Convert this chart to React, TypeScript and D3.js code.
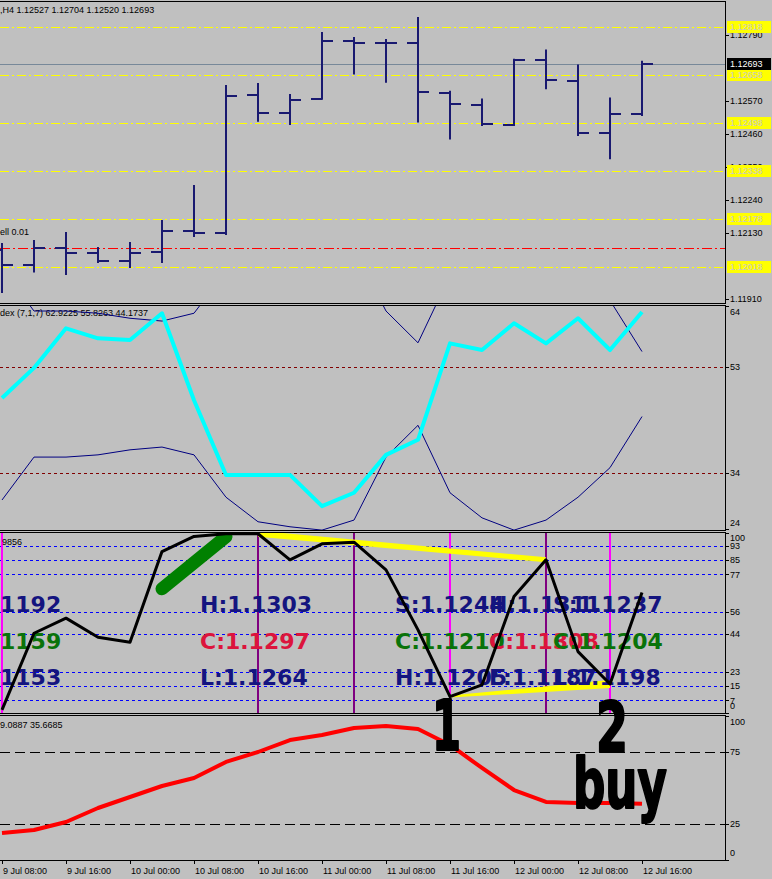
import React from 'react';
import * as d3 from 'd3';

// H4 bars, 9 Jul 08:00 .. 12 Jul 16:00
const barTimes = [
  '2019-07-09 08:00', '2019-07-09 12:00', '2019-07-09 16:00', '2019-07-09 20:00',
  '2019-07-10 00:00', '2019-07-10 04:00', '2019-07-10 08:00', '2019-07-10 12:00',
  '2019-07-10 16:00', '2019-07-10 20:00', '2019-07-11 00:00', '2019-07-11 04:00',
  '2019-07-11 08:00', '2019-07-11 12:00', '2019-07-11 16:00', '2019-07-11 20:00',
  '2019-07-12 00:00', '2019-07-12 04:00', '2019-07-12 08:00', '2019-07-12 12:00',
  '2019-07-12 16:00',
];

const opens = [1.12073, 1.12023, 1.12081, 1.12063, 1.12038, 1.12068, 1.12138, 1.12131, 1.12590, 1.12530, 1.12577,
  1.12771, 1.12764, 1.12764, 1.12598, 1.12557, 1.12490, 1.12708, 1.12638, 1.12463, 1.12527];
const highs = [1.12097, 1.12107, 1.12133, 1.12083, 1.12100, 1.12173, 1.12290, 1.12623, 1.12630, 1.12593, 1.12800,
  1.12783, 1.12777, 1.12850, 1.12604, 1.12578, 1.12711, 1.12742, 1.12692, 1.12582, 1.12704];
const lows = [1.11930, 1.11998, 1.11990, 1.12030, 1.12013, 1.12030, 1.12117, 1.12123, 1.12501, 1.12490, 1.12574,
  1.12658, 1.12631, 1.12498, 1.12442, 1.12487, 1.12487, 1.12609, 1.12453, 1.12376, 1.12520];
const closes = [1.12023, 1.12081, 1.12063, 1.12038, 1.12063, 1.12138, 1.12131, 1.12587, 1.12530, 1.12574, 1.12771,
  1.12764, 1.12764, 1.12601, 1.12560, 1.12493, 1.12707, 1.12640, 1.12463, 1.12527, 1.12693];

// scale labels that are not hidden behind the level boxes
const priceTicks = [1.12790, 1.12570, 1.12460, 1.12350, 1.12240, 1.12130, 1.11910];
const yellowLevels = [1.12818, 1.12658, 1.12498, 1.12338, 1.12178, 1.12018];
const orderLevel = 1.1208;
const lastPrice = 1.12693;

// indicator window 2
const mainLine = [47.5, 52.9, 60.0, 58.2, 57.9, 62.7, 47.1, 33.7, 33.7, 33.7, 28.1, 30.5, 37.3, 40.0, 57.3, 56.1,
  60.9, 57.3, 61.8, 56.1, 62.9225];
const upperBand = [70.8, 63.1, 63.1, 62.7, 61.8, 61.3, 62.7, 70.3, 74.7, 75.6, 76.2, 74.4, 63.1, 57.4, 69.5, 74.0,
  76.2, 74.4, 70.3, 65.0, 55.8263];
const lowerBand = [29.2, 36.9, 36.9, 37.3, 38.2, 38.7, 37.3, 29.7, 25.3, 24.4, 23.8, 25.6, 36.9, 42.6, 30.5, 26.0,
  23.8, 25.6, 29.7, 35.0, 44.1737];
const win2Levels = [53, 34];
const win2Ticks = [64, 53, 34, 24];

// indicator window 3
const stochLine = [1.7, 44.3, 52.7, 42.1, 39.3, 89.7, 98.1, 99.6, 99.6, 85.1, 94.0, 94.9, 79.5, 46.2, 9.1, 15.6,
  64.7, 85.1, 34.1, 16.1, 66.9856];
const win3Levels = [93, 85, 77, 56, 44, 23, 15, 7];
const magentaBars = [0, 14, 19];
const purpleBars = [8, 11, 17];
const divergences = [[8, 17, 6, 5], [14, 19, 2, 8]]; // from bar, to bar, start width, end width
const greenStroke = [[5, 69], [7, 98]];

// indicator window 4
const redLine = [18.75, 20.8, 26.4, 36.1, 43.75, 51.4, 56.9, 68.1, 75.0, 83.3, 86.8, 91.7, 93.1, 91.0, 79.9, 63.9,
  48.6, 40.3, 39.6, 39.6, 39.0887];
const win4Levels = [75, 25];

const labelRows = [
  [{ t: '1192', x: 0, c: '#14147f' }, { t: 'H:1.1303', x: 200, c: '#14147f' }, { t: 'S:1.1244', x: 395, c: '#14147f' },
    { t: 'H:1.1311', x: 489, c: '#14147f' }, { t: 'S:1.1237', x: 553, c: '#14147f' }],
  [{ t: '1159', x: 0, c: '#0a730a' }, { t: 'C:1.1297', x: 200, c: '#dc143c' }, { t: 'C:1.1210', x: 395, c: '#0a730a' },
    { t: 'C:1.1308', x: 489, c: '#dc143c' }, { t: 'C:1.1204', x: 553, c: '#0a730a' }],
  [{ t: '1153', x: 0, c: '#14147f' }, { t: 'L:1.1264', x: 200, c: '#14147f' }, { t: 'H:1.1205', x: 395, c: '#14147f' },
    { t: 'L:1.1187', x: 489, c: '#14147f' }, { t: 'L:1.1198', x: 553, c: '#14147f' }],
];
const rowBaselines = [612, 649, 685];

const FONT = 'Liberation Sans, Arial, sans-serif';
const RIGHT = 725;
const P1 = { top: 1, bottom: 303 };
const P2 = { top: 305, bottom: 530 };
const P3 = { top: 532, bottom: 713 };
const P4 = { top: 715, bottom: 860 };

const parse = d3.timeParse('%Y-%m-%d %H:%M');
const dates = barTimes.map(s => parse(s) as Date);
const fmtTick = d3.timeFormat('%-d %b %H:%M');

const x = d3.scaleTime().domain([dates[0], dates[dates.length - 1]]).range([2, 642]);
const yP = d3.scaleLinear().domain([1.11910, 1.12790]).range([299, 35]);
const y2 = d3.scaleLinear().domain([24, 64]).range([529, 306]);
const y3 = d3.scaleLinear().domain([0, 100]).range([713, 533]);
const y4 = d3.scaleLinear().domain([0, 100]).range([860, 716]);

const lineFor = (scale: d3.ScaleLinear<number, number>) =>
  d3.line<number>().x((_, i) => x(dates[i])).y(v => scale(v));

const Panel: React.FC<{ id: string; p: { top: number; bottom: number } }> = ({ id, p }) => (
  <clipPath id={id}>
    <rect x={0} y={p.top} width={RIGHT} height={p.bottom - p.top} />
  </clipPath>
);

const wedge = (a: number, b: number, w0: number, w1: number) => {
  const x0 = x(dates[a]), yA = y3(stochLine[a]);
  const x1 = x(dates[b]), yB = y3(stochLine[b]);
  return `M${x0},${yA - w0 / 2}L${x1},${yB - w1 / 2}L${x1},${yB + w1 / 2}L${x0},${yA + w0 / 2}Z`;
};

const AxisLabel: React.FC<{ y: number; ty?: number; text: string }> = ({ y, ty, text }) => (
  <g>
    <line x1={RIGHT} x2={RIGHT + 4} y1={Math.round(y) + 0.5} y2={Math.round(y) + 0.5} stroke="#000" />
    <text x={RIGHT + 5} y={ty ?? y} dy="0.35em" fontSize={9} fontFamily={FONT} fill="#000">{text}</text>
  </g>
);

export default function App() {
  const tickDates = dates.filter((_, i) => i % 2 === 0);
  const fmtP = d3.format('.5f');

  return (
    <div style={{ position: 'absolute', left: 0, top: 0 }}>
      <svg width={772} height={879} style={{ display: 'block' }}>
        <defs>
          <Panel id="c1" p={P1} />
          <Panel id="c2" p={P2} />
          <Panel id="c3" p={P3} />
          <Panel id="c4" p={P4} />
        </defs>
        <rect width={772} height={879} fill="#c0c0c0" />

        {/* main window */}
        <g clipPath="url(#c1)">
          {yellowLevels.map(v => (
            <line key={v} x1={0} x2={RIGHT} y1={Math.round(yP(v)) + 0.5} y2={Math.round(yP(v)) + 0.5}
              stroke="#ffff00" strokeDasharray="9,3,2,3" />
          ))}
          <line x1={0} x2={RIGHT} y1={Math.round(yP(orderLevel)) + 0.5} y2={Math.round(yP(orderLevel)) + 0.5}
            stroke="#ff0000" strokeDasharray="10,3,2,3" />
          <line x1={0} x2={RIGHT} y1={Math.round(yP(lastPrice)) + 0.5} y2={Math.round(yP(lastPrice)) + 0.5}
            stroke="#778899" />
          <text x={0} y={13} fontSize={9} fontFamily={FONT}>,H4  1.12527 1.12704 1.12520 1.12693</text>
          <text x={0} y={235} fontSize={9} fontFamily={FONT}>ell 0.01</text>
          {dates.map((d, i) => {
            const cx = Math.round(x(d));
            return (
              <g key={i} stroke="#191970" strokeWidth={2}>
                <line x1={cx} x2={cx} y1={yP(highs[i])} y2={yP(lows[i])} />
                <line x1={cx - 11} x2={cx} y1={Math.round(yP(opens[i]))} y2={Math.round(yP(opens[i]))} />
                <line x1={cx} x2={cx + 11} y1={Math.round(yP(closes[i]))} y2={Math.round(yP(closes[i]))} />
              </g>
            );
          })}
        </g>

        {/* window 2 */}
        <g clipPath="url(#c2)">
          {win2Levels.map(v => (
            <line key={v} x1={0} x2={RIGHT} y1={Math.round(y2(v)) + 0.5} y2={Math.round(y2(v)) + 0.5}
              stroke="#800000" strokeDasharray="3,3" />
          ))}
          <text x={0} y={316} fontSize={9} fontFamily={FONT}>dex (7,1,7) 62.9225 55.8263 44.1737</text>
          <path d={lineFor(y2)(upperBand) ?? ''} fill="none" stroke="#000080" strokeWidth={1} />
          <path d={lineFor(y2)(lowerBand) ?? ''} fill="none" stroke="#000080" strokeWidth={1} />
          <path d={lineFor(y2)(mainLine) ?? ''} fill="none" stroke="#00ffff" strokeWidth={4} strokeLinejoin="round" />
        </g>

        {/* window 3 */}
        <g clipPath="url(#c3)">
          {win3Levels.map(v => (
            <line key={v} x1={0} x2={RIGHT} y1={Math.round(y3(v)) + 0.5} y2={Math.round(y3(v)) + 0.5}
              stroke="#0000ff" strokeDasharray="3,3" />
          ))}
          {magentaBars.map(i => (
            <line key={'m' + i} x1={x(dates[i])} x2={x(dates[i])} y1={P3.top} y2={P3.bottom} stroke="#ff00ff" strokeWidth={2} />
          ))}
          {purpleBars.map(i => (
            <line key={'p' + i} x1={x(dates[i])} x2={x(dates[i])} y1={P3.top} y2={P3.bottom} stroke="#800080" strokeWidth={2} />
          ))}
          <text x={2} y={545} fontSize={9} fontFamily={FONT}>9856</text>
          {divergences.map(([a, b, w0, w1], k) => (
            <path key={k} d={wedge(a, b, w0, w1)} fill="#ffff00" />
          ))}
          <line x1={x(dates[greenStroke[0][0]])} y1={y3(greenStroke[0][1])}
            x2={x(dates[greenStroke[1][0]])} y2={y3(greenStroke[1][1])}
            stroke="#008000" strokeWidth={13} strokeLinecap="round" />
          {labelRows.map((row, r) => row.map((l, k) => (
            <text key={r + '-' + k} x={l.x} y={rowBaselines[r]} fontSize={22} fontWeight="bold"
              fontFamily="DejaVu Sans, sans-serif" fill={l.c}>{l.t}</text>
          )))}
          <path d={lineFor(y3)(stochLine) ?? ''} fill="none" stroke="#000" strokeWidth={3} strokeLinejoin="round" />
        </g>

        {/* window 4 */}
        <g clipPath="url(#c4)">
          {win4Levels.map(v => (
            <line key={v} x1={0} x2={RIGHT} y1={Math.round(y4(v)) + 0.5} y2={Math.round(y4(v)) + 0.5}
              stroke="#000" strokeDasharray="10,5" />
          ))}
          <text x={0} y={728} fontSize={9} fontFamily={FONT}>9.0887 35.6685</text>
          <path d={lineFor(y4)(redLine) ?? ''} fill="none" stroke="#ff0000" strokeWidth={4} strokeLinejoin="round" />
        </g>

        {/* borders */}
        {[P1, P2, P3, P4].map((p, k) => (
          <rect key={k} x={-1.5} y={p.top + 0.5} width={RIGHT + 2} height={p.bottom - p.top} fill="none" stroke="#000" />
        ))}

        {/* right axes */}
        {priceTicks.map(v => <AxisLabel key={v} y={yP(v)} text={fmtP(v)} />)}
        {yellowLevels.map(v => (
          <g key={'yl' + v}>
            <rect x={RIGHT + 2} y={Math.round(yP(v)) - 6} width={44} height={12} fill="#ffff00" />
            <text x={RIGHT + 5} y={yP(v)} dy="0.35em" fontSize={9} fontFamily={FONT} fill="#c8c8c8">{fmtP(v)}</text>
          </g>
        ))}
        <rect x={RIGHT + 2} y={Math.round(yP(lastPrice)) - 6} width={44} height={12} fill="#000" />
        <text x={RIGHT + 5} y={yP(lastPrice)} dy="0.35em" fontSize={9} fontFamily={FONT} fill="#fff">{fmtP(lastPrice)}</text>

        {win2Ticks.map(v => (
          <AxisLabel key={'w2' + v} y={y2(v)} ty={v === 64 ? y2(v) + 6 : v === 24 ? y2(v) - 6 : undefined} text={String(v)} />
        ))}
        {[100, ...win3Levels, 0].map(v => (
          <AxisLabel key={'w3' + v} y={y3(v)} ty={v === 100 ? y3(v) + 5 : v === 0 ? y3(v) - 7 : undefined} text={String(v)} />
        ))}
        {[100, ...win4Levels, 0].map(v => (
          <AxisLabel key={'w4' + v} y={y4(v)} ty={v === 100 ? y4(v) + 6 : v === 0 ? y4(v) - 7 : undefined} text={String(v)} />
        ))}

        {/* time axis */}
        {tickDates.map(d => (
          <g key={d.getTime()}>
            <line x1={Math.round(x(d)) + 0.5} x2={Math.round(x(d)) + 0.5} y1={P4.bottom} y2={P4.bottom + 4} stroke="#000" />
            <text x={x(d) + 1} y={874} fontSize={9} fontFamily={FONT}>{fmtTick(d)}</text>
          </g>
        ))}

        {/* hand-drawn marks */}
        <g fontFamily="Liberation Sans Narrow, DejaVu Sans Condensed, sans-serif" fontWeight="bold" fill="#000"
          stroke="#000" strokeWidth={2} strokeLinejoin="round">
          <text x={432} y={750} fontSize={70} textLength={29} lengthAdjust="spacingAndGlyphs">1</text>
          <text x={596} y={752} fontSize={70} textLength={32} lengthAdjust="spacingAndGlyphs">2</text>
          <text x={573} y={808} fontSize={70} textLength={94} lengthAdjust="spacingAndGlyphs">buy</text>
        </g>
      </svg>
    </div>
  );
}
